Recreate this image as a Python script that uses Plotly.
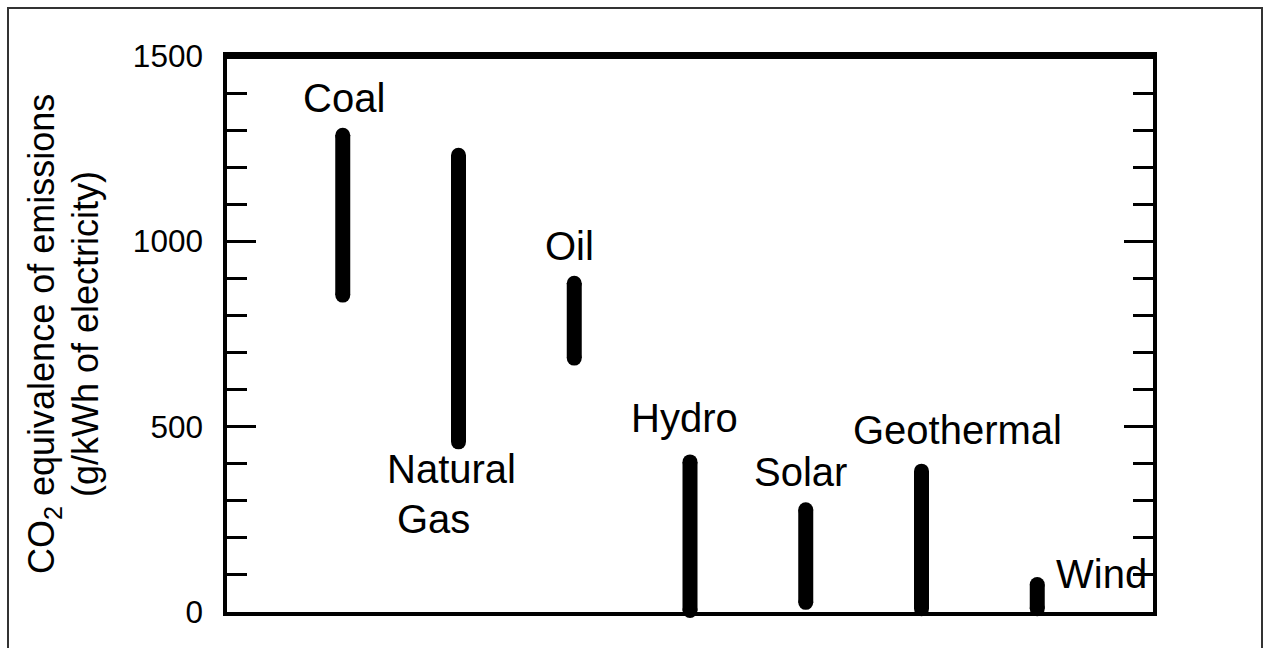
import plotly.graph_objects as go

# ---- data ----
categories = ["Coal", "Natural Gas", "Oil", "Hydro", "Solar", "Geothermal", "Wind"]
low_values = [855, 459, 685, 4, 26, 9, 9]
high_values = [1286, 1232, 887, 405, 276, 380, 74]
y_tick_values = [0, 500, 1000, 1500]
y_tick_labels = ["0", "500", "1000", "1500"]

FONT = "Liberation Sans, Arial, sans-serif"
positions = list(range(1, len(categories) + 1))

fig = go.Figure()
for pos, lo, hi in zip(positions, low_values, high_values):
    fig.add_trace(go.Scatter(
        x=[pos, pos], y=[lo, hi], mode="lines+markers",
        line=dict(color="black", width=15),
        marker=dict(color="black", size=15, line=dict(width=0)),
        cliponaxis=False, showlegend=False, hoverinfo="skip",
    ))

# label placement: (text, anchor on low/high end, xshift px, yshift px)
label_style = {
    "Coal": [("Coal", "high", 1, 37.5)],
    "Natural Gas": [("Natural", "low", -7, -27.5), ("Gas", "low", -25, -77.5)],
    "Oil": [("Oil", "high", -5, 37.5)],
    "Hydro": [("Hydro", "high", -6, 43.5)],
    "Solar": [("Solar", "high", -5, 37.5)],
    "Geothermal": [("Geothermal", "high", 36, 41.5)],
    "Wind": [("Wind", "high", 64, 10.5)],
}

annotations = []
for pos, cat, lo, hi in zip(positions, categories, low_values, high_values):
    for text, end, xs, ys in label_style[cat]:
        annotations.append(dict(
            x=pos, y=hi if end == "high" else lo, xref="x", yref="y",
            text=text, showarrow=False, xanchor="center", yanchor="middle",
            xshift=xs, yshift=ys,
            font=dict(family=FONT, size=40, color="black"),
        ))

# y-axis title as two rotated lines
annotations.append(dict(
    x=0, y=0.5, xref="paper", yref="paper", xshift=-183,
    text="CO<sub>2</sub> equivalence of emissions", textangle=-90,
    showarrow=False, xanchor="center", yanchor="middle",
    font=dict(family=FONT, size=36, color="black"),
))
annotations.append(dict(
    x=0, y=0.5, xref="paper", yref="paper", xshift=-142,
    text="(g/kWh of electricity)", textangle=-90,
    showarrow=False, xanchor="center", yanchor="middle",
    font=dict(family=FONT, size=36, color="black"),
))

fig.update_layout(
    width=1264, height=648,
    margin=dict(l=227, r=111, t=56, b=36),
    paper_bgcolor="white", plot_bgcolor="white",
    font=dict(family=FONT, color="black"),
    annotations=annotations,
    shapes=[
        # heavier top frame line
        dict(type="line", xref="paper", yref="paper", x0=0, x1=1, y0=1, y1=1,
             line=dict(color="black", width=6), layer="above"),
        # outer border of the figure
        dict(type="rect", xref="paper", yref="paper",
             x0=(8 - 227) / 926, x1=(1262 - 227) / 926,
             y0=(612 - 660) / 556, y1=(612 - 8) / 556,
             line=dict(color="#333333", width=2), layer="below"),
    ],
)

fig.update_xaxes(
    range=[0, 8], showticklabels=False, ticks="", showgrid=False, zeroline=False,
    showline=True, linecolor="black", linewidth=3.5, mirror=True,
)
fig.update_yaxes(
    range=[0, 1500], tickmode="array", tickvals=y_tick_values, ticktext=y_tick_labels,
    ticks="inside", ticklen=29, tickwidth=3, tickcolor="black",
    minor=dict(dtick=100, tick0=0, ticks="inside", ticklen=20, tickwidth=3,
               tickcolor="black", showgrid=False),
    showgrid=False, zeroline=False,
    showline=True, linecolor="black", linewidth=3.5, mirror="ticks",
    tickfont=dict(family=FONT, size=31.5, color="black"),
    ticklabelstandoff=14,
)

fig.write_html(
    "out.html",
    config={"displayModeBar": False},
    post_script="document.body.style.margin='0';document.body.style.overflow='hidden';",
)
